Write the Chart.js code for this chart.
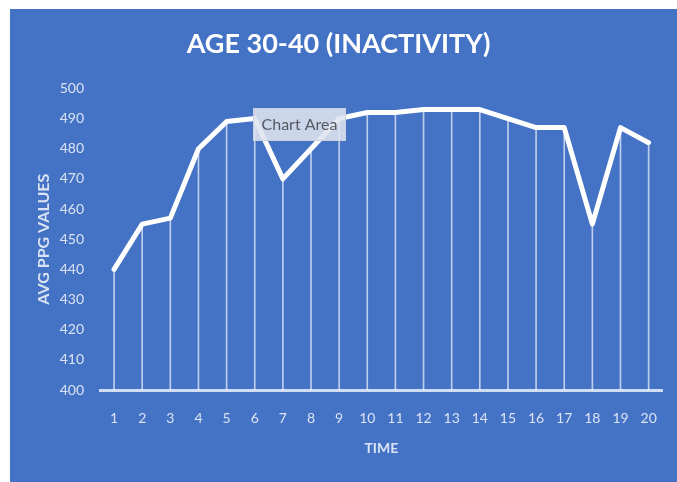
<!DOCTYPE html>
<html>
<head>
<meta charset="utf-8">
<script src="https://cdn.jsdelivr.net/npm/chart.js@4/dist/chart.umd.min.js"></script>
<style>
  html, body { margin: 0; padding: 0; background: #ffffff; }
  #wrap {
    position: absolute;
    left: 10px;
    top: 9px;
    width: 667px;
    height: 473px;
    background: #4472c4;
  }
</style>
</head>
<body>
<div id="wrap"><canvas id="ppgChart" width="667" height="473"></canvas></div>
<script>
// Time steps and averaged PPG readings
const timeLabels = ["1", "2", "3", "4", "5", "6", "7", "8", "9", "10",
                    "11", "12", "13", "14", "15", "16", "17", "18", "19", "20"];
const ppgValues = [440, 455, 457, 480, 489, 490, 470, 480, 490, 492,
                   492, 493, 493, 493, 490, 487, 487, 455, 487, 482];
const yTicks = [400, 410, 420, 430, 440, 450, 460, 470, 480, 490, 500];

const fontFamily = "Lato, 'Open Sans', sans-serif";
const tickColor = "rgba(235, 240, 250, 0.9)";

// the little hover box Excel leaves on top of the plot
const hoverBox = {
  id: "hoverBox",
  afterDraw(chart) {
    const ctx = chart.ctx;
    ctx.save();
    ctx.fillStyle = "rgba(222, 228, 240, 0.88)";
    ctx.strokeStyle = "rgba(200, 205, 215, 0.9)";
    ctx.lineWidth = 1;
    ctx.fillRect(243, 99, 93, 33);
    ctx.strokeRect(243.5, 99.5, 92, 32);
    ctx.fillStyle = "#555a63";
    ctx.font = "16px " + fontFamily;
    ctx.textAlign = "center";
    ctx.textBaseline = "middle";
    ctx.fillText("Chart Area", 289.5, 116);
    ctx.restore();
  }
};

const ctx = document.getElementById("ppgChart").getContext("2d");
new Chart(ctx, {
  data: {
    labels: timeLabels,
    datasets: [
      {
        type: "line",
        data: ppgValues,
        borderColor: "#ffffff",
        borderWidth: 5,
        borderJoinStyle: "round",
        borderCapStyle: "round",
        pointRadius: 0,
        tension: 0,
        order: 0
      },
      {
        // drop lines from each point down to the axis
        type: "bar",
        data: ppgValues,
        backgroundColor: "rgba(255, 255, 255, 0.65)",
        barThickness: 1,
        order: 1
      }
    ]
  },
  options: {
    responsive: false,
    animation: false,
    layout: { padding: { left: 0, right: 10, top: 0, bottom: 0 } },
    plugins: {
      legend: { display: false },
      tooltip: { enabled: false },
      title: {
        display: true,
        text: "AGE 30-40 (INACTIVITY)",
        color: "#ffffff",
        font: { family: fontFamily, size: 27, weight: "bold", lineHeight: 1.2 },
        padding: { top: 19, bottom: 28 }
      }
    },
    scales: {
      x: {
        offset: true,
        grid: { display: false, drawTicks: false },
        border: { display: true, color: "rgba(215, 228, 248, 0.95)", width: 3 },
        ticks: {
          color: tickColor,
          font: { family: fontFamily, size: 14 },
          padding: 20,
          maxRotation: 0,
          autoSkip: false
        },
        title: {
          display: true,
          text: "TIME",
          color: tickColor,
          font: { family: fontFamily, size: 14, weight: "bold" },
          padding: { top: 0, bottom: 25 }
        },
        afterFit(scale) { scale.height = 92; }
      },
      y: {
        min: 400,
        max: 500,
        grid: { display: false, drawTicks: false },
        border: { display: false },
        afterBuildTicks(scale) {
          scale.ticks = yTicks.map(v => ({ value: v }));
        },
        ticks: {
          color: tickColor,
          font: { family: fontFamily, size: 14 },
          padding: 16
        },
        title: {
          display: true,
          text: "AVG PPG VALUES",
          color: tickColor,
          font: { family: fontFamily, size: 16, weight: "bold" },
          padding: { top: 24, bottom: 0 }
        },
        afterFit(scale) { scale.width = 90; }
      }
    }
  },
  plugins: [hoverBox]
});
</script>
</body>
</html>
